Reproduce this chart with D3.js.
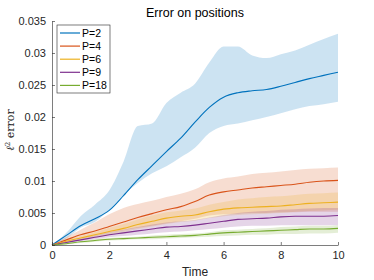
<!DOCTYPE html>
<html>
<head>
<meta charset="utf-8">
<script src="https://cdn.jsdelivr.net/npm/d3@7"></script>
<style>
	body { margin: 0; background: #fff; }
	svg { display: block; font-family: "Liberation Sans", Arial, sans-serif; }
	.tick text { font-size: 11px; fill: #262626; }
	.axis path, .axis line { stroke: #262626; stroke-width: 0.6; }
</style>
</head>
<body>
<div id="chart"></div>
<script>
var times = [0, 0.5, 1, 1.5, 2, 2.5, 3, 3.5, 4, 4.5, 5, 5.5, 6, 6.5, 7, 7.5, 8, 8.5, 9, 9.5, 10]
var seriesNames = ["P=2", "P=4", "P=6", "P=9", "P=18"]
var seriesColors = ["#0072BD", "#D95319", "#EDB120", "#7E2F8E", "#77AC30"]

var meanP2 = [0, 0.0015, 0.003, 0.0041, 0.0054, 0.0077, 0.0102, 0.0124, 0.0146, 0.0167, 0.0192, 0.0215, 0.0231, 0.0238, 0.0241, 0.0243, 0.0248, 0.0254, 0.026, 0.0265, 0.027]
var upperP2 = [0, 0.0019, 0.0045, 0.0063, 0.0085, 0.013, 0.0186, 0.019, 0.0222, 0.0238, 0.0252, 0.0285, 0.031, 0.031, 0.0296, 0.0292, 0.0298, 0.0304, 0.0313, 0.0322, 0.033]
var lowerP2 = [0, 0.001, 0.0027, 0.0036, 0.0055, 0.0078, 0.0097, 0.0112, 0.0123, 0.0137, 0.0152, 0.0175, 0.0186, 0.019, 0.0195, 0.02, 0.0206, 0.0212, 0.0217, 0.022, 0.0224]

var meanP4 = [0, 0.0008, 0.0016, 0.0022, 0.0029, 0.0036, 0.0043, 0.0049, 0.0055, 0.006, 0.0068, 0.0078, 0.0083, 0.0086, 0.0089, 0.0091, 0.0093, 0.0095, 0.0098, 0.01, 0.0101]
var upperP4 = [0, 0.0012, 0.0024, 0.0035, 0.0048, 0.0058, 0.0064, 0.0069, 0.0075, 0.008, 0.0087, 0.0098, 0.0104, 0.0107, 0.0111, 0.0113, 0.0115, 0.0117, 0.0119, 0.012, 0.0121]
var lowerP4 = [0, 0.0005, 0.001, 0.0014, 0.0019, 0.0023, 0.0027, 0.003, 0.0034, 0.0037, 0.0041, 0.0046, 0.0048, 0.0049, 0.005, 0.005, 0.0051, 0.0051, 0.0052, 0.0052, 0.0052]

var meanP6 = [0, 0.0006, 0.0011, 0.0016, 0.0021, 0.0026, 0.0032, 0.0037, 0.0042, 0.0045, 0.0047, 0.0052, 0.0056, 0.0058, 0.0059, 0.006, 0.0061, 0.0063, 0.0065, 0.0066, 0.0067]
var upperP6 = [0, 0.0008, 0.0014, 0.002, 0.0027, 0.0033, 0.004, 0.0046, 0.0051, 0.0054, 0.0057, 0.0063, 0.0067, 0.0071, 0.0073, 0.0075, 0.0076, 0.0078, 0.008, 0.0081, 0.0082]
var lowerP6 = [0, 0.0004, 0.0008, 0.0012, 0.0016, 0.002, 0.0025, 0.0029, 0.0033, 0.0036, 0.0038, 0.0042, 0.0045, 0.0047, 0.0048, 0.0049, 0.005, 0.0052, 0.0053, 0.0054, 0.0055]

var meanP9 = [0, 0.0004, 0.0008, 0.0012, 0.0016, 0.0019, 0.0022, 0.0025, 0.0028, 0.0029, 0.0031, 0.0034, 0.0037, 0.004, 0.0041, 0.0042, 0.0044, 0.0045, 0.0045, 0.0045, 0.0046]
var upperP9 = [0, 0.0005, 0.001, 0.0015, 0.002, 0.0024, 0.0028, 0.0032, 0.0035, 0.0037, 0.0039, 0.0043, 0.0047, 0.005, 0.0052, 0.0053, 0.0055, 0.0056, 0.0057, 0.0058, 0.0058]
var lowerP9 = [0, 0.0003, 0.0006, 0.0009, 0.0012, 0.0014, 0.0016, 0.0018, 0.002, 0.0021, 0.0023, 0.0025, 0.0027, 0.0029, 0.003, 0.003, 0.0031, 0.0031, 0.0031, 0.0031, 0.0031]

var meanP18 = [0, 0.0002, 0.0005, 0.0007, 0.0009, 0.001, 0.0011, 0.0012, 0.0013, 0.0014, 0.0015, 0.0017, 0.0019, 0.002, 0.0021, 0.0022, 0.0023, 0.0024, 0.0025, 0.0025, 0.0026]
var upperP18 = [0, 0.0003, 0.0006, 0.0009, 0.0011, 0.0012, 0.0013, 0.0015, 0.0016, 0.0017, 0.0018, 0.002, 0.0023, 0.0024, 0.0025, 0.0026, 0.0028, 0.0029, 0.003, 0.003, 0.0031]
var lowerP18 = [0, 0.0001, 0.0003, 0.0005, 0.0007, 0.0008, 0.0009, 0.0009, 0.001, 0.0011, 0.0012, 0.0013, 0.0014, 0.0015, 0.0016, 0.0016, 0.0017, 0.0017, 0.0018, 0.0018, 0.0019]

var xTicks = [0, 2, 4, 6, 8, 10]
var yTicks = [0, 0.005, 0.01, 0.015, 0.02, 0.025, 0.03, 0.035]

var means = [meanP2, meanP4, meanP6, meanP9, meanP18]
var uppers = [upperP2, upperP4, upperP6, upperP9, upperP18]
var lowers = [lowerP2, lowerP4, lowerP6, lowerP9, lowerP18]

var width = 374, height = 280
var margins = {left: 52, right: 36, top: 21, bottom: 35}
var plot_w = width - margins.left - margins.right
var plot_h = height - margins.top - margins.bottom

var svg = d3.select("#chart").append("svg")
	.attr("width", width)
	.attr("height", height)
var chart = svg.append("g")
	.attr("transform", "translate(" + margins.left + "," + margins.top + ")")

var x = d3.scaleLinear().domain([0, 10]).range([0, plot_w])
var y = d3.scaleLinear().domain([0, 0.035]).range([plot_h, 0])

// bands first, then the mean lines on top
var area = d3.area()
	.curve(d3.curveMonotoneX)
	.x((d) => x(d.t))
	.y0((d) => y(d.lo))
	.y1((d) => y(d.hi))
var line = d3.line()
	.curve(d3.curveMonotoneX)
	.x((d) => x(d.t))
	.y((d) => y(d.v))

seriesNames.forEach((name, i) => {
	var band = times.map((t, j) => ({t: t, lo: lowers[i][j], hi: uppers[i][j]}))
	chart.append("path")
		.attr("class", "band")
		.attr("d", area(band))
		.attr("fill", seriesColors[i])
		.attr("fill-opacity", 0.2)
		.attr("stroke", "none")
})
seriesNames.forEach((name, i) => {
	var pts = times.map((t, j) => ({t: t, v: means[i][j]}))
	chart.append("path")
		.attr("class", "mean")
		.attr("d", line(pts))
		.attr("fill", "none")
		.attr("stroke", seriesColors[i])
		.attr("stroke-width", 1.1)
})

// axes, MATLAB style: inward ticks, no box
chart.append("g")
	.attr("class", "axis x-axis")
	.attr("transform", "translate(0," + plot_h + ")")
	.call(d3.axisBottom(x).tickValues(xTicks).tickSizeInner(-3).tickSizeOuter(0).tickPadding(6).tickFormat(d3.format("d")))
chart.append("g")
	.attr("class", "axis y-axis")
	.call(d3.axisLeft(y).tickValues(yTicks).tickSizeInner(-3).tickSizeOuter(0).tickPadding(6).tickFormat((d) => d === 0 ? "0" : String(+d.toFixed(3))))

svg.append("text")
	.attr("x", margins.left + plot_w / 2)
	.attr("y", 17)
	.style("text-anchor", "middle")
	.style("font-size", "12.5px")
	.attr("fill", "#000")
	.text("Error on positions")
svg.append("text")
	.attr("x", margins.left + plot_w / 2)
	.attr("y", 276)
	.style("text-anchor", "middle")
	.style("font-size", "12px")
	.attr("fill", "#262626")
	.text("Time")
var ylab = svg.append("text")
	.attr("transform", "translate(14,130) rotate(-90)")
	.style("text-anchor", "middle")
	.style("font-family", "'DejaVu Serif', 'Liberation Serif', serif")
	.style("font-size", "11px")
	.attr("fill", "#262626")
ylab.append("tspan").style("font-style", "italic").text("ℓ")
ylab.append("tspan").attr("dy", -4).style("font-size", "7px").text("2")
ylab.append("tspan").attr("dy", 4).text(" error")

// legend
var legend = svg.append("g").attr("transform", "translate(57,25)")
legend.append("rect")
	.attr("width", 53)
	.attr("height", 68)
	.attr("fill", "#fff")
	.attr("stroke", "#262626")
	.attr("stroke-width", 0.6)
var rows = legend.selectAll("g.row").data(seriesNames).enter()
	.append("g")
	.attr("class", "row")
	.attr("transform", (d, i) => "translate(0," + (8 + i * 13.1) + ")")
rows.append("line")
	.attr("x1", 3).attr("x2", 23)
	.attr("stroke", (d, i) => seriesColors[i])
	.attr("stroke-width", 1.2)
rows.append("text")
	.attr("x", 25)
	.attr("y", 3.8)
	.style("font-size", "10.5px")
	.attr("fill", "#000")
	.text((d) => d)
</script>
</body>
</html>
